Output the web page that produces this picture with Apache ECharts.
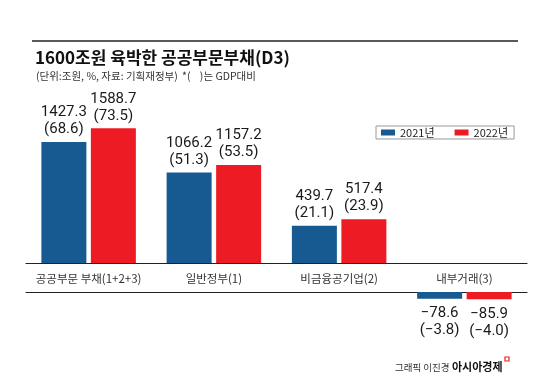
<!DOCTYPE html>
<html><head><meta charset="utf-8">
<script src="https://cdn.jsdelivr.net/npm/echarts@6/dist/echarts.min.js"></script>
<style>html,body{margin:0;padding:0;background:#fff}#c{width:550px;height:386px}</style>
</head><body><div id="c"></div>
<script>
const categories = ['공공부문 부채(1+2+3)', '일반정부(1)', '비금융공기업(2)', '내부거래(3)'];
const seriesNames = ['2021년', '2022년'];
const debt2021 = [1427.3, 1066.2, 439.7, -78.6];
const debt2022 = [1588.7, 1157.2, 517.4, -85.9];
const gdp2021 = [68.6, 51.3, 21.1, -3.8];
const gdp2022 = [73.5, 53.5, 23.9, -4.0];
const colors = ['#175a92', '#ed1c24'];

const font = '"Noto Sans CJK KR", "Noto Sans", sans-serif';
const numFont = 'Roboto, "Noto Sans CJK KR", sans-serif';
const fmtNum = v => (v < 0 ? '\u2212' + Math.abs(v).toFixed(1) : v.toFixed(1));

function makeSeries(idx, vals, pcts, positive) {
  return {
    name: seriesNames[idx],
    type: 'bar',
    xAxisIndex: positive ? 0 : 1,
    yAxisIndex: positive ? 0 : 1,
    barWidth: 45,
    barGap: '10%',
    itemStyle: { color: colors[idx] },
    data: vals.map(v => (positive ? (v >= 0 ? v : '-') : (v < 0 ? v : '-'))),
    label: {
      show: true,
      position: positive ? 'top' : 'bottom',
      distance: positive ? 4 : 6,
      fontFamily: numFont,
      fontSize: 15,
      lineHeight: 17,
      color: '#1a1a1a',
      formatter: p => fmtNum(vals[p.dataIndex]) + '\n(' + fmtNum(pcts[p.dataIndex]) + ')'
    },
    silent: true
  };
}

const chart = echarts.init(document.getElementById('c'), null, { renderer: 'canvas' });
chart.setOption({
  animation: false,
  backgroundColor: '#fff',
  title: [
    { text: '1600조원 육박한 공공부문부채(D3)', left: 30, top: 44,
      textStyle: { fontFamily: font, fontSize: 17, fontWeight: 'bold', color: '#111' } },
    { text: '(단위:조원, %, 자료: 기획재정부)', left: 31, top: 66,
      textStyle: { fontFamily: font, fontSize: 10.5, fontWeight: 'normal', color: '#333' } },
    { text: '*(    )는 GDP대비', left: 177, top: 66,
      textStyle: { fontFamily: font, fontSize: 10.5, fontWeight: 'normal', color: '#333' } },
    { text: '그래픽 이진경', left: 390, top: 358,
      textStyle: { fontFamily: font, fontSize: 9.5, fontWeight: 'normal', color: '#333' } },
    { text: '아시아경제', left: 447, top: 356,
      textStyle: { fontFamily: font, fontSize: 11, fontWeight: 'bold', color: '#111' } }
  ],
  graphic: [
    { type: 'line', shape: { x1: 32, y1: 41, x2: 518, y2: 41 }, style: { stroke: '#222', lineWidth: 1.5 } },
    { type: 'rect', shape: { x: 505, y: 357, width: 4, height: 4 }, style: { fill: 'none', stroke: '#ed1c24', lineWidth: 1.2 } }
  ],
  legend: {
    data: seriesNames,
    left: 376, top: 126,
    orient: 'horizontal',
    icon: 'rect',
    itemWidth: 14, itemHeight: 6, itemGap: 20,
    padding: [1, 6, 1, 5],
    borderColor: '#999', borderWidth: 1,
    textStyle: { fontFamily: font, fontSize: 11, color: '#222' },
    selectedMode: false
  },
  grid: [
    { left: 26, right: 23, top: 110.4, bottom: 123, containLabel: false },
    { left: 26, right: 23, top: 292, bottom: 85.5, containLabel: false }
  ],
  xAxis: [
    { type: 'category', gridIndex: 0, data: categories, position: 'bottom',
      axisLine: { show: true, lineStyle: { color: '#222', width: 1.2 } },
      axisTick: { show: false },
      axisLabel: { show: true, margin: 10, fontFamily: font, fontSize: 11.5, color: '#333', interval: 0 } },
    { type: 'category', gridIndex: 1, data: categories, position: 'top',
      axisLine: { show: true, lineStyle: { color: '#222', width: 1.2 } },
      axisTick: { show: false }, axisLabel: { show: false } }
  ],
  yAxis: [
    { type: 'value', gridIndex: 0, min: 0, max: 1800, show: false, splitLine: { show: false } },
    { type: 'value', gridIndex: 1, min: -100, max: 0, show: false, splitLine: { show: false } }
  ],
  series: [
    makeSeries(0, debt2021, gdp2021, true),
    makeSeries(1, debt2022, gdp2022, true),
    makeSeries(0, debt2021, gdp2021, false),
    makeSeries(1, debt2022, gdp2022, false)
  ]
});
</script>
</body></html>
